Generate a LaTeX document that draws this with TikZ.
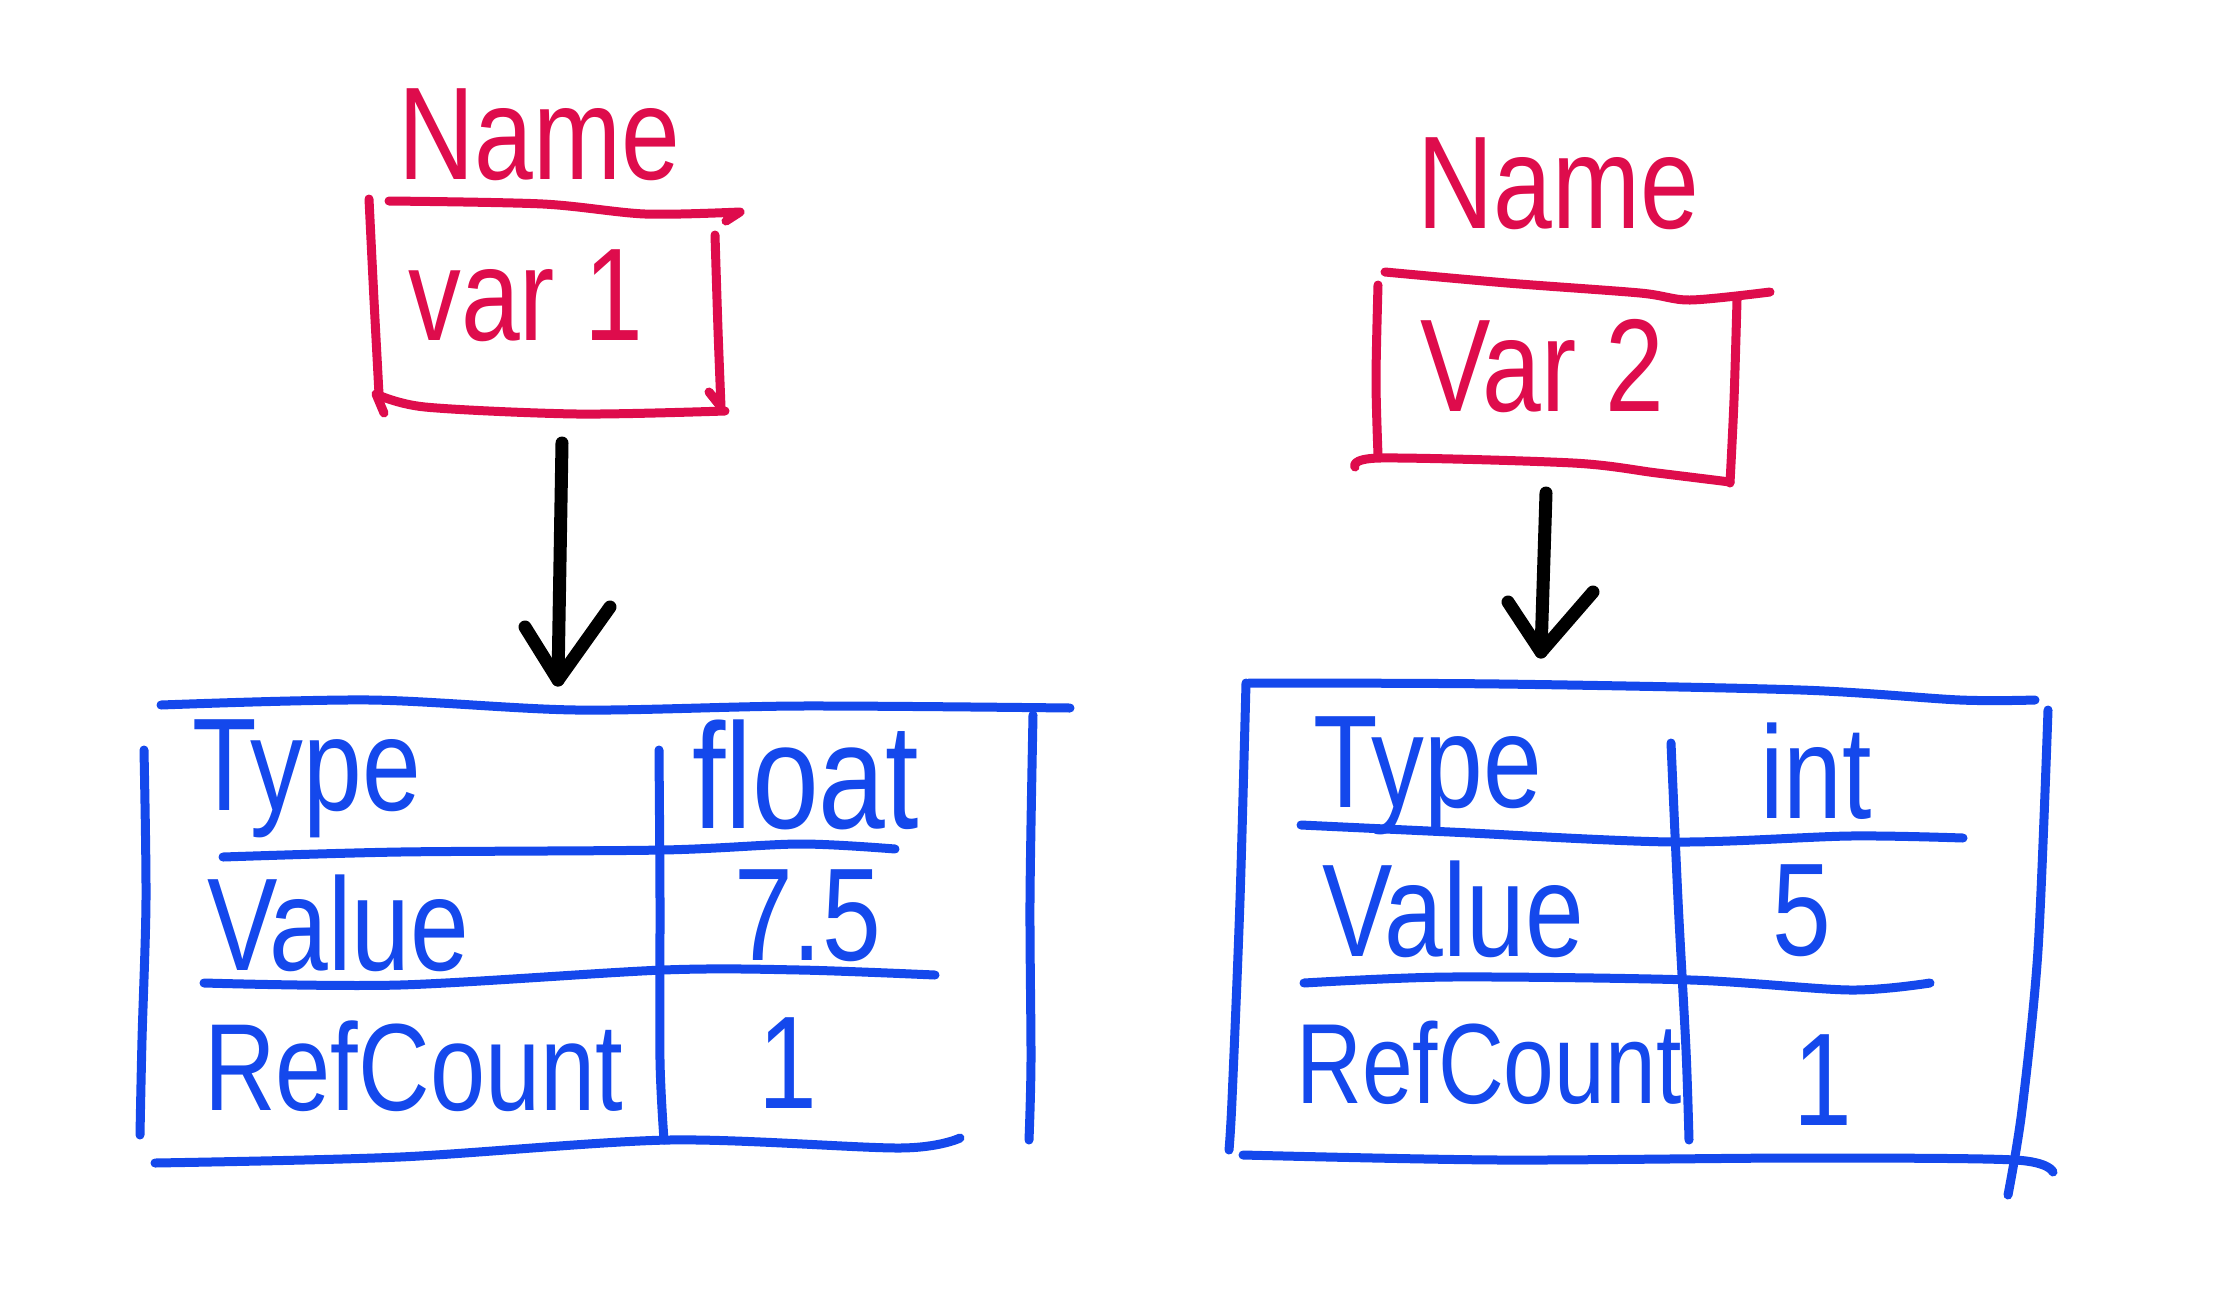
\documentclass[tikz,border=0pt]{standalone}
\usepackage{fontspec}
\setmainfont[FakeStretch=0.8]{Liberation Sans}
\definecolor{inkred}{RGB}{222,12,76}
\definecolor{inkblue}{RGB}{20,72,236}
\begin{document}
\begin{tikzpicture}[x=1pt,y=-1pt,line cap=round,line join=round,
  redink/.style={draw=inkred,line width=9pt},
  blueink/.style={draw=inkblue,line width=9pt},
  blackink/.style={draw=black,line width=13pt},
  hand/.style={inner sep=0pt,anchor=base west,font=\fontsize{132}{132}\selectfont},
  redtxt/.style={hand,text=inkred},
  bluetxt/.style={hand,text=inkblue},
  narrowtxt/.style={bluetxt,font=\fontsize{124}{124}\selectfont},
  narrowertxt/.style={bluetxt,font=\fontsize{114}{114}\selectfont},
  talltxt/.style={bluetxt,font=\fontsize{150}{150}\selectfont}]
\useasboundingbox (0,0) rectangle (2222,1310);
\fill[white] (0,0) rectangle (2222,1310);

% ---------------- left variable ----------------
\node[redtxt] (name1) at (398,179) {Name};
\node[redtxt] (var1) at (408,340) {var 1};
\draw[redink] plot[smooth] coordinates {(389,201) (543,204) (645,214) (740,212)} -- (726,221);
\draw[redink] plot[smooth] coordinates {(369,199) (374,300) (379,394)};
\draw[redink] (384,413) -- (376,394) plot[smooth] coordinates {(376,394) (425,407) (577,414) (725,411)};
\draw[redink] plot[smooth] coordinates {(715,235) (718,330) (721,407)} -- (709,392);

\coordinate (a1start) at (562,443);
\coordinate (a1tip) at (558,680);
\coordinate (a1h1) at (525,627);
\coordinate (a1h2) at (610,607);
\draw[blackink] (a1start) -- (a1tip);
\draw[blackink] (a1h1) -- (a1tip) -- (a1h2);

% left table
\draw[blueink] plot[smooth] coordinates {(161,705) (370,700) (576,710) (800,706) (1070,708)};
\draw[blueink] plot[smooth] coordinates {(144,750) (146,900) (142,1040) (140,1135)};
\draw[blueink] plot[smooth] coordinates {(1033,715) (1030,900) (1031,1060) (1029,1140)};
\draw[blueink] plot[smooth] coordinates {(155,1163) (400,1157) (669,1140) (900,1148) (960,1138)};
\draw[blueink] plot[smooth] coordinates {(659,750) (660,900) (660,1060) (664,1140)};
\draw[blueink] plot[smooth] coordinates {(223,857) (400,852) (663,850) (800,844) (895,849)};
\draw[blueink] plot[smooth] coordinates {(204,983) (400,985) (663,970) (800,970) (935,975)};

\node[bluetxt] (t1a) at (192,810) {Type};
\node[talltxt] (t1b) at (692,828) {float};
\node[bluetxt] (t1c) at (207,970) {Value};
\node[bluetxt] (t1d) at (734,960) {7.5};
\node[narrowtxt] (t1e) at (204,1110) {RefCount};
\node[bluetxt] (t1f) at (758,1108) {1};

% ---------------- right variable ----------------
\node[redtxt] (name2) at (1417,228) {Name};
\node[redtxt] (var2) at (1420,411) {Var 2};
\draw[redink] plot[smooth] coordinates {(1385,272) (1507,283) (1640,293) (1690,300) (1770,292)};
\draw[redink] plot[smooth] coordinates {(1378,285) (1376,380) (1378,455)};
\draw[redink] plot[smooth] coordinates {(1355,467) (1380,458) (1573,463) (1657,473) (1730,482)};
\draw[redink] plot[smooth] coordinates {(1737,300) (1734,400) (1730,483)};

\coordinate (a2start) at (1546,493);
\coordinate (a2tip) at (1541,652);
\coordinate (a2h1) at (1508,602);
\coordinate (a2h2) at (1593,592);
\draw[blackink] (a2start) -- (a2tip);
\draw[blackink] (a2h1) -- (a2tip) -- (a2h2);

% right table
\draw[blueink] plot[smooth] coordinates {(1249,683) (1500,684) (1801,690) (1960,700) (2035,700)};
\draw[blueink] plot[smooth] coordinates {(1246,683) (1240,900) (1232,1100) (1229,1150)};
\draw[blueink] plot[smooth] coordinates {(2048,710) (2038,950) (2022,1110) (2008,1195)};
\draw[blueink] plot[smooth] coordinates {(1243,1155) (1500,1160) (1800,1158) (2015,1160) (2053,1172)};
\draw[blueink] plot[smooth] coordinates {(1671,743) (1678,900) (1686,1050) (1689,1140)};
\draw[blueink] plot[smooth] coordinates {(1301,825) (1450,832) (1673,842) (1850,836) (1963,838)};
\draw[blueink] plot[smooth] coordinates {(1304,983) (1450,977) (1691,980) (1850,990) (1930,983)};

\node[bluetxt] (t2a) at (1313,807) {Type};
\node[bluetxt] (t2b) at (1760,818) {int};
\node[bluetxt] (t2c) at (1322,956) {Value};
\node[bluetxt] (t2d) at (1772,955) {5};
\node[narrowertxt] (t2e) at (1296,1103) {RefCount};
\node[bluetxt] (t2f) at (1793,1125) {1};
\end{tikzpicture}
\end{document}
